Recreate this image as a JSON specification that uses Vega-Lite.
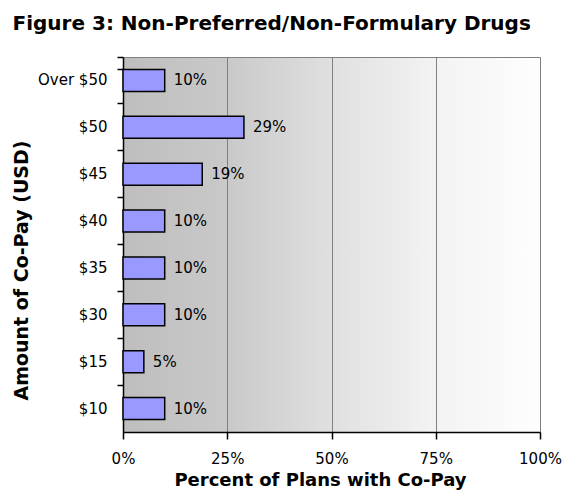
{
  "$schema": "https://vega.github.io/schema/vega-lite/v6.json",
  "width": 417,
  "height": 375,
  "autosize": {"type": "none"},
  "padding": {"left": 123, "top": 57, "right": 22, "bottom": 63},
  "background": "white",
  "title": {
    "text": "Figure 3: Non-Preferred/Non-Formulary Drugs",
    "anchor": "start",
    "frame": "bounds",
    "font": "DejaVu Sans",
    "fontSize": 20,
    "fontWeight": "bold",
    "color": "black",
    "baseline": "alphabetic",
    "offset": 0
  },
  "config": {
    "view": {
      "stroke": "#808080",
      "strokeWidth": 1,
      "fill": {
        "gradient": "linear",
        "x1": 0, "y1": 0, "x2": 1, "y2": 0,
        "stops": [
          {"offset": 0, "color": "#bebebe"},
          {"offset": 0.25, "color": "#c9c9c9"},
          {"offset": 0.5, "color": "#e0e0e0"},
          {"offset": 0.75, "color": "#f3f3f3"},
          {"offset": 1, "color": "#fefefe"}
        ]
      }
    },
    "axis": {
      "labelFont": "DejaVu Sans",
      "labelFontSize": 15,
      "labelColor": "black",
      "titleFont": "DejaVu Sans",
      "titleFontWeight": "bold",
      "titleColor": "black",
      "domainColor": "black",
      "domainWidth": 1.5,
      "tickColor": "black",
      "tickWidth": 1.5
    }
  },
  "data": {
    "values": [
      {"copay": "Over $50", "pct": 0.10},
      {"copay": "$50", "pct": 0.29},
      {"copay": "$45", "pct": 0.19},
      {"copay": "$40", "pct": 0.10},
      {"copay": "$35", "pct": 0.10},
      {"copay": "$30", "pct": 0.10},
      {"copay": "$15", "pct": 0.05},
      {"copay": "$10", "pct": 0.10}
    ]
  },
  "encoding": {
    "y": {
      "field": "copay",
      "type": "nominal",
      "sort": null,
      "scale": {"paddingInner": 0.53, "paddingOuter": 0.265},
      "axis": {
        "title": "Amount of Co-Pay (USD)",
        "titleFontSize": 19,
        "titleY": 213,
        "bandPosition": -0.5638,
        "tickExtra": true,
        "tickSize": 6,
        "labelPadding": 10,
        "titlePadding": 6,
        "grid": false
      }
    },
    "x": {
      "field": "pct",
      "type": "quantitative",
      "scale": {"domain": [0, 1], "nice": false},
      "axis": {
        "title": "Percent of Plans with Co-Pay",
        "titleFontSize": 18,
        "titleX": 197,
        "values": [0, 0.25, 0.5, 0.75, 1],
        "format": ".0%",
        "grid": true,
        "gridColor": "#808080",
        "gridWidth": 1,
        "gridOpacity": 1,
        "tickSize": 7,
        "labelPadding": 12,
        "titlePadding": 5,
        "labelFlush": false
      }
    }
  },
  "layer": [
    {
      "mark": {"type": "bar", "color": "#9999ff", "stroke": "black", "strokeWidth": 1.5}
    },
    {
      "mark": {"type": "text", "align": "left", "baseline": "middle", "dx": 9, "font": "DejaVu Sans", "fontSize": 15, "color": "black"},
      "encoding": {
        "text": {"field": "pct", "type": "quantitative", "format": ".0%"}
      }
    }
  ]
}
